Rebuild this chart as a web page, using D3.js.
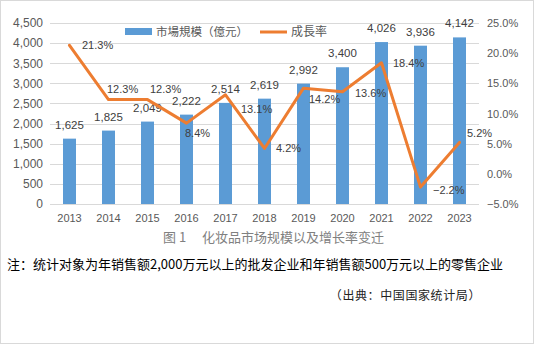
<!DOCTYPE html>
<html><head><meta charset="utf-8">
<script src="https://cdn.jsdelivr.net/npm/d3@7/dist/d3.min.js"></script>
<style>
html,body{margin:0;padding:0;background:#fff;}
svg{display:block;}
</style>
</head><body>
<svg id="c" width="534" height="344"></svg>
<script>
const years = ["2013","2014","2015","2016","2017","2018","2019","2020","2021","2022","2023"];
const marketSize = [1625,1825,2049,2222,2514,2619,2992,3400,4026,3936,4142];
const growthRate = [21.3,12.3,12.3,8.4,13.1,4.2,14.2,13.6,18.4,-2.2,5.2];
const leftTicks = [0,500,1000,1500,2000,2500,3000,3500,4000,4500];
const rightTicks = [-5,0,5,10,15,20,25];
// label placement offsets for growth-rate labels (styling)
const rateLabelDx = [12.5,-1.5,2.5,-1.5,15.5,11.5,5.5,12.5,11.5,12.5,7.5];
const rateLabelDy = [0,-10.6,-10.6,10,14,0,10.8,1,0,2.6,-9.5];

const legendBarName = "市場規模（億元）";
const legendLineName = "成長率";
const titleNum = "图 1";
const titleText = "化妆品市场规模以及增长率变迁";
const noteText = "注：统计对象为年销售额2,000万元以上的批发企业和年销售额500万元以上的零售企业";
const sourceText = "（出典：中国国家统计局）";

const svg = d3.select("#c");
const latin = "'Liberation Sans', Arial, sans-serif";
const cjk = "'Noto Sans CJK SC', 'Noto Sans CJK JP', sans-serif";

svg.append("rect").attr("x",0.5).attr("y",0.5).attr("width",533).attr("height",343)
  .attr("fill","#fff").attr("stroke","#d9d9d9");

const x = d3.scaleBand().domain(years).range([50,479]).paddingInner(0).paddingOuter(0);
const yL = d3.scaleLinear().domain([0,4500]).range([204,23]);
const yR = d3.scaleLinear().domain([-5,25]).range([204,23]);

// gridlines
svg.append("g").selectAll("line").data(leftTicks).join("line")
  .attr("x1",50).attr("x2",479)
  .attr("y1",d=>Math.round(yL(d))+0.5).attr("y2",d=>Math.round(yL(d))+0.5)
  .attr("stroke","#d9d9d9").attr("stroke-width",1);

// left axis
const axL = d3.axisLeft(yL).tickValues(leftTicks).tickFormat(d3.format(",")).tickSize(0).tickPadding(7);
const gL = svg.append("g").attr("transform","translate(50,0)").call(axL);
gL.select(".domain").remove();
gL.selectAll("text").attr("font-family",latin).attr("font-size",12).attr("fill","#595959");

// right axis
const axR = d3.axisRight(yR).tickValues(rightTicks).tickFormat(d=>d3.format(".1f")(d)+"%").tickSize(0).tickPadding(8);
const gR = svg.append("g").attr("transform","translate(479,0)").call(axR);
gR.select(".domain").remove();
gR.selectAll("text").attr("font-family",latin).attr("font-size",11).attr("fill","#595959");

// bottom axis
const axB = d3.axisBottom(x).tickSize(0).tickPadding(10);
const gB = svg.append("g").attr("transform","translate(0,204)").call(axB);
gB.select(".domain").remove();
gB.selectAll("text").attr("font-family",latin).attr("font-size",11).attr("fill","#595959");

// bars
const bw = 13;
svg.append("g").selectAll("rect").data(years).join("rect")
  .attr("x",(d)=>x(d)+x.bandwidth()/2-bw/2)
  .attr("width",bw)
  .attr("y",(d,i)=>yL(marketSize[i]))
  .attr("height",(d,i)=>yL(0)-yL(marketSize[i]))
  .attr("fill","#5b9bd5");

// bar labels
svg.append("g").selectAll("text").data(years).join("text")
  .attr("x",d=>x(d)+x.bandwidth()/2)
  .attr("y",(d,i)=>yL(marketSize[i])-10)
  .attr("text-anchor","middle")
  .attr("font-family",latin).attr("font-size",11.5).attr("fill","#404040")
  .text((d,i)=>d3.format(",")(marketSize[i]));

// line
const line = d3.line().x((d,i)=>x(years[i])+x.bandwidth()/2).y(d=>yR(d));
svg.append("path").datum(growthRate).attr("d",line)
  .attr("fill","none").attr("stroke","#ed7d31").attr("stroke-width",3)
  .attr("stroke-linejoin","round").attr("stroke-linecap","round");

// line labels
svg.append("g").selectAll("text").data(growthRate).join("text")
  .attr("x",(d,i)=>x(years[i])+x.bandwidth()/2+rateLabelDx[i])
  .attr("y",(d,i)=>yR(d)+rateLabelDy[i])
  .attr("dy","0.35em")
  .attr("font-family",latin).attr("font-size",11).attr("fill","#404040")
  .text(d=>d3.format(".1f")(d)+"%");

// legend
svg.append("rect").attr("x",125).attr("y",28).attr("width",27).attr("height",7).attr("fill","#5b9bd5");
svg.append("text").attr("x",156).attr("y",32).attr("dy","0.35em")
  .attr("font-family",cjk).attr("font-size",11.5).attr("fill","#595959").text(legendBarName);
svg.append("line").attr("x1",260).attr("x2",287).attr("y1",32).attr("y2",32)
  .attr("stroke","#ed7d31").attr("stroke-width",3);
svg.append("text").attr("x",291).attr("y",32).attr("dy","0.35em")
  .attr("font-family",cjk).attr("font-size",12).attr("fill","#595959").text(legendLineName);

// title
svg.append("text").attr("x",163).attr("y",237).attr("dy","0.35em")
  .attr("font-family",cjk).attr("font-size",13).attr("fill","#808080").text(titleNum);
svg.append("text").attr("x",202).attr("y",237).attr("dy","0.35em")
  .attr("font-family",cjk).attr("font-size",13).attr("fill","#808080").text(titleText);

// note
svg.append("text").attr("x",7).attr("y",264).attr("dy","0.35em")
  .attr("font-family",cjk).attr("font-size",13).attr("fill","#000").text(noteText);

// source
svg.append("text").attr("x",481).attr("y",296).attr("dy","0.35em").attr("text-anchor","end")
  .attr("font-family",cjk).attr("font-size",12).attr("letter-spacing","0.6px").attr("fill","#222").text(sourceText);
</script>
</body></html>
